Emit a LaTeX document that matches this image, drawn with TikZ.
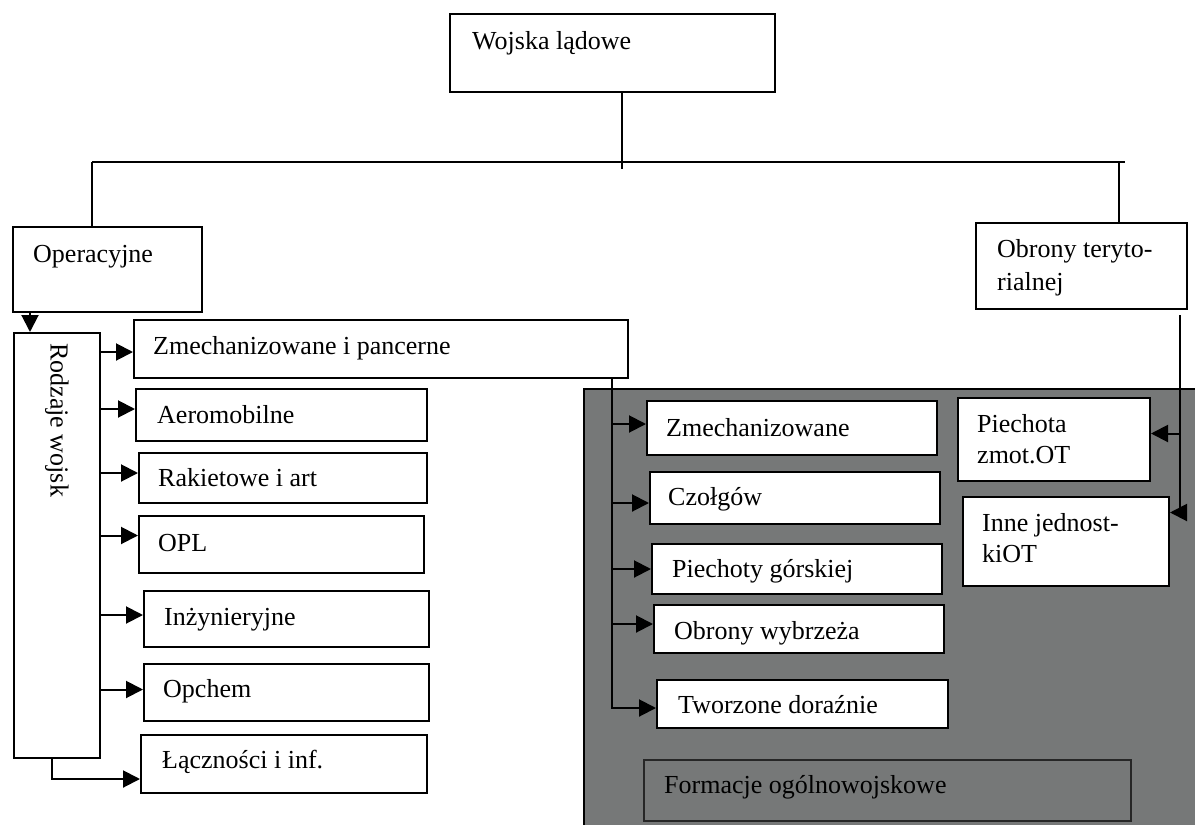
\documentclass[tikz,border=0pt]{standalone}
\usepackage{fontspec}
\setmainfont{Liberation Serif}
\usetikzlibrary{arrows.meta,calc}
\definecolor{shade}{RGB}{118,120,120}
\begin{document}
\begin{tikzpicture}[x=1pt,y=-1pt,
  box/.style={draw, line width=2pt, fill=white, inner sep=0pt, anchor=north west},
  txt/.style={inner sep=0pt, anchor=base west, font=\fontsize{26}{30}\selectfont},
  ln/.style={line width=2pt},
  arr/.style={line width=2pt, -{Triangle[length=17pt,width=17pt]}},
]
\useasboundingbox (0,0) rectangle (1195,825);
% shaded panel
\node[fill=shade, inner sep=0pt, anchor=north west, minimum width=611pt, minimum height=436pt] (panel) at (584,389) {};
\draw[ln] (panel.south west) -- (panel.north west) -- (panel.north east);

% top level
\node[box, minimum width=325pt, minimum height=78pt] (top) at (449,13) {};
\node[txt] (topt) at (472,49) {Wojska lądowe};
\node[box, minimum width=189pt, minimum height=85pt] (opr) at (12,226) {};
\node[txt] (oprt) at (33,262) {Operacyjne};
\node[box, minimum width=211pt, minimum height=86pt] (obr) at (975,222) {};
\node[txt] (obrt1) at (997,257) {Obrony teryto-};
\node[txt] (obrt2) at (997,290) {rialnej};

% left column
\node[box, minimum width=86pt, minimum height=425pt] (rodz) at (13,332) {};
\node[inner sep=0pt, font=\fontsize{26}{30}\selectfont, rotate=-90, anchor=west] (rodzt) at (57,343) {Rodzaje wojsk};
\node[box, minimum width=494pt, minimum height=58pt] (zp) at (133,319) {};
\node[txt] (zpt) at (153,354) {Zmechanizowane i pancerne};
\node[box, minimum width=291pt, minimum height=52pt] (aero) at (135,388) {};
\node[txt] (aerot) at (157,423) {Aeromobilne};
\node[box, minimum width=288pt, minimum height=50pt] (rak) at (138,452) {};
\node[txt] (rakt) at (158,486) {Rakietowe i art};
\node[box, minimum width=285pt, minimum height=57pt] (opl) at (138,515) {};
\node[txt] (oplt) at (158,551) {OPL};
\node[box, minimum width=285pt, minimum height=56pt] (inz) at (143,590) {};
\node[txt] (inzt) at (164,625) {Inżynieryjne};
\node[box, minimum width=285pt, minimum height=57pt] (opch) at (143,663) {};
\node[txt] (opcht) at (163,697) {Opchem};
\node[box, minimum width=286pt, minimum height=58pt] (lacz) at (140,734) {};
\node[txt] (laczt) at (162,768) {Łączności i inf.};

% shaded panel boxes
\node[box, minimum width=290pt, minimum height=54pt] (zm) at (646,400) {};
\node[txt] (zmt) at (666,436) {Zmechanizowane};
\node[box, minimum width=290pt, minimum height=52pt] (czo) at (649,471) {};
\node[txt] (czot) at (668,505) {Czołgów};
\node[box, minimum width=290pt, minimum height=50pt] (pg) at (651,543) {};
\node[txt] (pgt) at (672,577) {Piechoty górskiej};
\node[box, minimum width=290pt, minimum height=48pt] (ow) at (653,604) {};
\node[txt] (owt) at (674,639) {Obrony wybrzeża};
\node[box, minimum width=291pt, minimum height=48pt] (tw) at (656,679) {};
\node[txt] (twt) at (678,713) {Tworzone doraźnie};
\node[box, fill=shade, draw=black!85, minimum width=487pt, minimum height=61pt] (form) at (643,759) {};
\node[txt] (formt) at (664,793) {Formacje ogólnowojskowe};
\node[box, minimum width=192pt, minimum height=83pt] (piech) at (957,397) {};
\node[txt] (piecht1) at (977,432) {Piechota};
\node[txt] (piecht2) at (977,463) {zmot.OT};
\node[box, minimum width=206pt, minimum height=89pt] (inne) at (962,496) {};
\node[txt] (innet1) at (982,531) {Inne jednost-};
\node[txt] (innet2) at (982,562) {kiOT};

% tree connectors
\coordinate (busL) at (92,162);
\coordinate (busR) at (1125,162);
\coordinate (busRd) at (1119,162);
\draw[ln] ([xshift=9pt]top.south) -- ++(0,76);
\draw[ln] (busL) -- (busR);
\draw[ln] (busL) -- (busL |- opr.north);
\draw[ln] (busRd) -- (busRd |- obr.north);
\draw[arr] ([xshift=18pt]opr.south west) -- ([xshift=17pt]rodz.north west);

% left arrows
\draw[arr] ($(zp.west -| rodz.east)+(0,3)$) -- ($(zp.west)+(0,3)$);
\draw[arr] ($(aero.west -| rodz.east)+(0,-6)$) -- ($(aero.west)+(0,-6)$);
\draw[arr] ($(rak.west -| rodz.east)+(0,-5)$) -- ($(rak.west)+(0,-5)$);
\draw[arr] ($(opl.west -| rodz.east)+(0,-9)$) -- ($(opl.west)+(0,-9)$);
\draw[arr] ($(inz.west -| rodz.east)+(0,-4)$) -- ($(inz.west)+(0,-4)$);
\draw[arr] ($(opch.west -| rodz.east)+(0,-3)$) -- ($(opch.west)+(0,-3)$);
\draw[arr] ([xshift=39pt]rodz.south west) |- ($(lacz.west)+(0,15)$);

% middle bus
\coordinate (mv) at ([xshift=-17pt]zp.south east);
\draw[ln] (mv) -- ++(0,330);
\draw[arr] ($(zm.west -| mv)+(0,-4)$) -- ($(zm.west)+(0,-4)$);
\draw[arr] ($(czo.west -| mv)+(0,5)$) -- ($(czo.west)+(0,5)$);
\draw[arr] (pg.west -| mv) -- (pg.west);
\draw[arr] ($(ow.west -| mv)+(0,-5)$) -- ($(ow.west)+(0,-5)$);
\draw[arr] ($(tw.west -| mv)+(0,4)$) -- ($(tw.west)+(0,4)$);

% right bus
\coordinate (rv) at ([xshift=-8pt,yshift=-5pt]obr.south east);
\draw[ln] (rv) -- ++(0,200);
\draw[arr] ($(piech.east -| rv)+(0,-6)$) -- ($(piech.east)+(0,-6)$);
\draw[arr] ($(inne.east -| rv)+(0,-29)$) -- ($(inne.east)+(0,-29)$);
\end{tikzpicture}
\end{document}
